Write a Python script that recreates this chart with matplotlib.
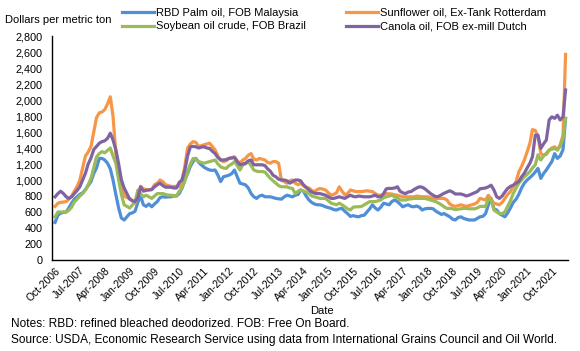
import pandas as pd
import matplotlib.pyplot as plt
import matplotlib.dates as mdates

plt.rcParams['font.family'] = ['Liberation Sans', 'DejaVu Sans']

# Monthly prices, Oct-2006 .. Mar-2022 (dollars per metric ton)
start_month = '2006-10-01'

palm = [
    470, 560, 585, 595, 600, 650, 710, 760, 790, 820, 840, 880,
    930, 980, 1080, 1150, 1270, 1270, 1250, 1210, 1140, 1000, 820, 650,
    525, 500, 540, 580, 590, 610, 720, 800, 690, 670, 700, 665,
    700, 730, 780, 790, 785, 790, 790, 800, 800, 830, 900, 1000,
    1080, 1170, 1230, 1270, 1220, 1190, 1160, 1140, 1125, 1120, 1125, 1060,
    980, 1040, 1050, 1060, 1080, 1125, 1040, 960, 950, 940, 900, 830,
    790, 770, 800, 810, 790, 790, 790, 780, 770, 765, 760, 790,
    810, 800, 790, 810, 820, 875, 860, 800, 750, 720, 700, 690,
    690, 680, 665, 655, 645, 630, 625, 640, 645, 610, 580, 545,
    555, 545, 540, 555, 560, 600, 640, 690, 650, 625, 660, 710,
    700, 690, 730, 750, 730, 700, 665, 680, 690, 670, 665, 675,
    660, 625, 640, 645, 645, 640, 610, 590, 570, 580, 560, 540,
    510, 500, 530, 540, 520, 510, 500, 500, 500, 520, 540, 545,
    580, 690, 770, 640, 625, 580, 560, 540, 590, 650, 720, 760,
    820, 900, 960, 1000, 1030, 1060, 1100, 1145, 1020, 1080, 1125, 1180,
    1230, 1330, 1270, 1300, 1380, 1770,
]

sunflower = [
    670, 710, 720, 725, 730, 760, 800, 860, 920, 1000, 1150, 1300,
    1350, 1420, 1600, 1780, 1840, 1850, 1880, 1950, 2040, 1800, 1330, 1150,
    1000, 800, 780, 770, 740, 710, 800, 920, 890, 880, 880, 880,
    940, 960, 1000, 980, 940, 930, 920, 920, 920, 920, 1000, 1170,
    1400, 1450, 1480, 1470, 1420, 1430, 1440, 1450, 1460, 1420, 1375, 1300,
    1250, 1230, 1240, 1270, 1280, 1290, 1240, 1210, 1250, 1270, 1310, 1330,
    1260, 1250, 1270, 1260, 1250, 1220, 1210, 1230, 1230, 1210, 1000, 980,
    960, 990, 1000, 960, 940, 960, 930, 900, 900, 870, 855, 880,
    895, 885, 875, 840, 810, 820, 840, 915, 860, 815, 830, 875,
    865, 855, 855, 855, 860, 865, 860, 855, 830, 810, 810, 815,
    830, 828, 825, 815, 810, 800, 790, 790, 790, 790, 790, 800,
    795, 790, 790, 790, 780, 770, 770, 770, 770, 770, 750, 700,
    680, 670, 680, 690, 680, 670, 680, 690, 700, 720, 770, 760,
    750, 810, 760, 710, 700, 690, 720, 770, 820, 855, 920, 980,
    1100, 1170, 1250, 1350, 1460, 1630, 1620, 1540, 1330, 1310, 1320, 1370,
    1400, 1415, 1375, 1440, 1560, 2570,
]

soybean = [
    540, 600, 600, 600, 600, 620, 660, 725, 760, 800, 830, 875,
    940, 1020, 1150, 1290, 1330, 1355, 1340, 1370, 1400, 1300, 1210, 1000,
    820, 690, 670, 650, 690, 725, 875, 830, 790, 810, 790, 770,
    800, 830, 830, 830, 820, 810, 810, 805, 800, 860, 900, 990,
    1100, 1200, 1270, 1260, 1230, 1220, 1210, 1220, 1230, 1240, 1250, 1200,
    1165, 1150, 1145, 1180, 1200, 1230, 1180, 1125, 1190, 1200, 1230, 1180,
    1125, 1110, 1105, 1105, 1100, 1060, 1020, 990, 960, 930, 915, 915,
    915, 900, 895, 830, 860, 875, 860, 850, 830, 800, 790, 780,
    770, 770, 770, 740, 710, 700, 690, 710, 690, 665, 640, 625,
    660, 665, 665, 670, 690, 710, 730, 730, 730, 740, 750, 780,
    790, 800, 810, 790, 780, 750, 750, 750, 760, 765, 770, 770,
    770, 770, 770, 760, 750, 740, 730, 710, 690, 665, 645, 645,
    640, 630, 635, 640, 645, 645, 640, 640, 640, 650, 670, 670,
    670, 770, 750, 625, 600, 580, 580, 600, 670, 740, 830, 900,
    960, 1000, 1040, 1070, 1105, 1150, 1190, 1315, 1250, 1300, 1335, 1375,
    1385, 1395, 1375, 1420, 1520, 1770,
]

canola = [
    790, 830, 860, 830, 790, 770, 790, 830, 870, 915, 1000, 1085,
    1200, 1275, 1380, 1420, 1460, 1480, 1490, 1520, 1585, 1500, 1380, 1200,
    1000, 900, 830, 760, 740, 730, 780, 915, 860, 870, 875, 880,
    915, 940, 960, 930, 910, 910, 910, 900, 900, 970, 1000, 1120,
    1300, 1415, 1420, 1415, 1400, 1410, 1415, 1400, 1395, 1360, 1330, 1280,
    1250, 1250, 1255, 1270, 1275, 1280, 1230, 1190, 1200, 1210, 1240, 1250,
    1190, 1190, 1190, 1190, 1180, 1140, 1110, 1060, 1040, 1010, 1000, 1000,
    990, 960, 980, 1000, 1000, 990, 940, 910, 875, 850, 835, 830,
    830, 820, 810, 790, 770, 770, 780, 790, 780, 770, 790, 810,
    795, 790, 800, 795, 790, 790, 790, 800, 810, 790, 790, 830,
    890, 895, 895, 900, 915, 860, 840, 830, 850, 855, 880, 900,
    915, 910, 890, 860, 830, 810, 790, 795, 815, 835, 850, 865,
    850, 825, 825, 825, 815, 800, 810, 825, 840, 855, 890, 895,
    900, 915, 935, 875, 790, 770, 800, 850, 895, 920, 935, 960,
    980, 1040, 1085, 1150, 1210, 1290, 1560, 1560, 1395, 1450, 1500, 1750,
    1790, 1770, 1810, 1750, 1790, 2125,
]

series_labels = [
    'RBD Palm oil, FOB Malaysia',
    'Sunflower oil, Ex-Tank Rotterdam',
    'Soybean oil crude, FOB Brazil',
    'Canola oil, FOB ex-mill Dutch',
]
series_colors = ['#4f8fd8', '#f79646', '#9bbb59', '#8064a2']

tick_dates = pd.date_range('2006-10-01', '2021-10-01', freq='9MS')

dates = pd.date_range(start_month, periods=len(palm), freq='MS')

fig = plt.figure(figsize=(5.8, 3.51), dpi=100)
ax = fig.add_axes([52 / 580, 1 - 260 / 351, 516 / 580, 224 / 351])

lines = {}
for label, values, color in zip(series_labels, [palm, sunflower, soybean, canola], series_colors):
    lines[label], = ax.plot(dates, values, color=color, linewidth=2.3, solid_joinstyle='round')

ax.set_ylim(0, 2800)
ax.set_yticks(range(0, 2801, 200))
ax.set_yticklabels([f'{v:,}' for v in range(0, 2801, 200)], fontsize=7.8)
ax.set_xlim(pd.Timestamp('2006-08-28'), pd.Timestamp('2022-03-28'))
ax.set_xticks(tick_dates)
ax.xaxis.set_major_formatter(mdates.DateFormatter('%b-%Y'))
for lab in ax.get_xticklabels():
    lab.set_rotation(45)
    lab.set_ha('right')
    lab.set_rotation_mode('anchor')
    lab.set_fontsize(7.5)
ax.tick_params(axis='both', length=0)
ax.tick_params(axis='y', pad=7)
ax.tick_params(axis='x', pad=4)
for side in ['top', 'right']:
    ax.spines[side].set_visible(False)
for side in ['left', 'bottom']:
    ax.spines[side].set_linewidth(1.0)
    ax.spines[side].set_color('black')

# legend, two columns: palm/soybean then sunflower/canola
order = [series_labels[0], series_labels[2], series_labels[1], series_labels[3]]
fig.legend([lines[k] for k in order], order, ncol=2, frameon=False,
           loc='upper left', bbox_to_anchor=(116 / 580, 1 - 2 / 351), fontsize=8,
           handlelength=2.9, handletextpad=0.2, columnspacing=3.6,
           labelspacing=0.35, borderaxespad=0.1)

fig.text(5 / 580, 1 - 20 / 351, 'Dollars per metric ton', fontsize=8, va='center')
fig.text(322 / 580, 1 - 311 / 351, 'Date', fontsize=8, ha='center', va='center')
fig.text(11 / 580, 1 - 324 / 351, 'Notes: RBD: refined bleached deodorized. FOB: Free On Board.',
         fontsize=8.6, va='center')
fig.text(11 / 580, 1 - 340 / 351,
         'Source: USDA, Economic Research Service using data from International Grains Council and Oil World.',
         fontsize=8.6, va='center')

fig.savefig('out.png', dpi=100)
